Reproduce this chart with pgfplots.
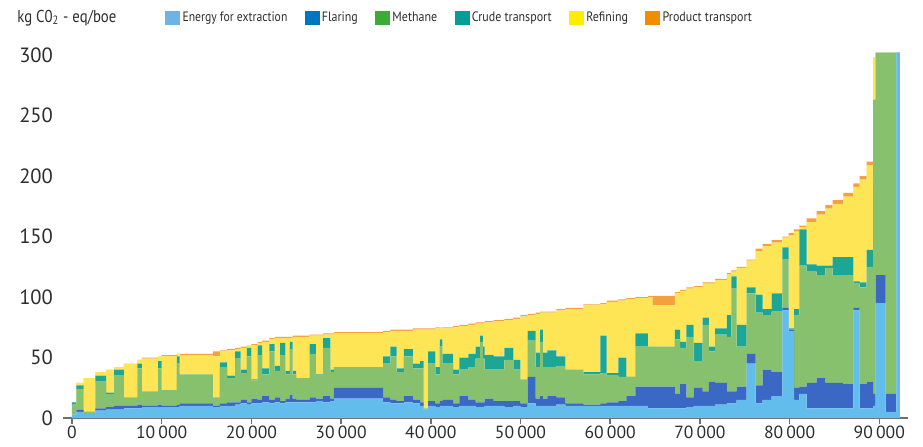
\documentclass[border=0pt]{standalone}
\usepackage{fontspec}
\setmainfont{PT Sans}
\usepackage{pgfplots}
\usepackage{pgfplotstable}
\pgfplotsset{compat=1.18}
\definecolor{cE}{RGB}{98,189,236}
\definecolor{cF}{RGB}{58,104,196}
\definecolor{cM}{RGB}{136,193,110}
\definecolor{cC}{RGB}{28,166,150}
\definecolor{cR}{RGB}{254,229,86}
\definecolor{cP}{RGB}{244,160,62}
\definecolor{lE}{RGB}{110,178,230}
\definecolor{lF}{RGB}{0,118,192}
\definecolor{lM}{RGB}{60,170,55}
\definecolor{lC}{RGB}{0,158,150}
\definecolor{lR}{RGB}{255,236,0}
\definecolor{lP}{RGB}{240,142,0}
\definecolor{txt}{RGB}{45,45,45}
\definecolor{axg}{RGB}{110,110,110}
\pgfplotstableread{
x E F M C R P
0 3 0 8 2 0 0
500 5 2 17 3 2 0
1300 4 0 1 0 28 0
2600 6 2 22 5 3 0
3800 7 2 11 1 19 0
4700 7 3 25 5 2 0
5800 8 2 7 0 28 0
7300 8 3 30 4 3 0
7800 9 1 12 0 27 1
9600 9 2 30 6 4 0
10000 9 1 13 0 28 1
11700 9 2 34 6 2 0
12000 10 2 24 0 16 1
15700 9 1 7 0 34 4
16500 10 2 30 4 9 1
17300 10 3 20 2 21 1
18200 11 2 36 6 2 1
18800 12 3 22 3 18 1
19500 11 2 38 7 2 0
20000 12 4 15 1 28 1
20700 12 3 37 8 2 1
21200 13 5 18 5 22 1
22000 12 3 40 6 4 1
22600 13 4 22 4 23 1
23200 12 2 38 10 4 1
23800 13 3 20 3 27 1
24300 13 6 38 6 3 1
24600 13 3 20 3 28 1
25000 13 2 18 0 34 1
26500 13 4 36 8 7 1
27200 14 2 19 1 32 1
28000 13 5 40 8 3 1
28800 14 2 22 2 29 1
29200 16 9 17 0 28 1
34700 13 4 28 6 20 1
35500 12 3 36 8 13 1
36200 12 2 24 3 31 1
37000 13 5 33 6 15 1
38000 12 3 26 4 28 1
38800 10 3 28 6 26 1
39200 7 0 1 0 65 1
39700 10 4 31 10 18 1
40500 9 3 24 6 32 1
41000 10 4 45 6 10 0
41300 10 5 30 8 21 1
42500 9 3 24 4 35 1
43200 10 8 22 10 26 1
44200 10 5 27 11 24 1
45000 9 4 36 10 19 1
45500 9 4 50 5 10 1
45800 9 4 36 10 19 1
46000 10 6 24 12 27 1
47000 10 4 26 11 29 1
48200 9 5 34 10 23 1
49200 10 4 26 8 34 1
50000 9 3 20 0 52 1
50800 12 22 30 8 13 1
51700 10 6 26 12 32 1
52200 10 8 45 10 14 1
52500 10 6 26 12 33 1
53000 10 8 24 14 31 1
54000 11 6 26 8 38 1
55000 10 2 28 0 50 1
57000 10 1 25 2 55 1
58900 10 2 25 31 26 1
59600 10 3 22 2 59 1
60900 10 4 20 16 47 1
61800 10 8 16 0 64 1
62800 10 16 33 11 29 1
64200 8 18 33 0 41 1
64700 8 18 33 0 34 8
67200 8 12 45 8 30 1
67800 8 20 30 5 42 1
68500 9 8 50 10 30 1
69300 10 15 22 15 46 1
70300 10 12 55 6 28 1
71000 10 20 25 4 52 1
71700 11 18 40 5 40 1
73000 12 10 45 18 34 1
73500 12 10 85 10 4 1
74100 15 11 33 18 47 1
75200 45 8 50 5 22 1
76200 12 15 60 15 36 2
77000 15 25 45 5 52 2
78000 18 20 50 15 42 2
79200 89 2 40 10 8 1
79900 72 1 0 1 77 2
80500 15 10 60 5 64 2
81100 20 6 100 30 2 1
81900 8 21 92 6 35 3
83000 8 25 85 8 42 3
84000 8 21 95 2 47 3
84800 8 21 89 15 44 3
86000 8 20 90 15 50 3
87100 89 2 20 2 78 3
87800 8 20 80 4 85 3
88600 8 22 95 14 70 3
89300 10 10 243 0 35 0
89600 95 23 184 0 0 0
90700 5 15 282 0 0 0
91900 302 0 0 0 0 0
92300 302 0 0 0 0 0
}\data
\begin{document}
\begin{tikzpicture}
\begin{axis}[
  scale only axis, width=422.5pt, height=184.5pt,
  xmin=-1000, xmax=93200, ymin=0, ymax=305,
  clip=false,
  stack plots=y,
  axis x line*=bottom, axis y line*=left,
  y axis line style={draw=none},
  x axis line style={draw=axg, line width=0.8pt},
  ytick={0,50,...,300}, xtick={0,10000,...,90000},
  ytick style={draw=none},
  xtick style={draw=axg, line width=0.8pt},
  tick align=outside, major tick length=3pt,
  scaled x ticks=false,
  /pgf/number format/assume math mode=true,
  /pgf/number format/1000 sep={\hspace{1.6pt}},
  xticklabel style={font=\fontsize{8.8}{10}\selectfont, text=txt, yshift=2.5pt},
  yticklabel style={font=\fontsize{10.3}{11}\selectfont, text=txt, xshift=1.5pt},
  legend columns=6,
  legend style={at={(0.1135,1.084)}, anchor=west, draw=none, fill=none,
    font=\fontsize{6.8}{7}\selectfont, text=txt,
    nodes={inner xsep=0pt},
    /tikz/every odd column/.append style={column sep=1.2pt},
    /tikz/every even column/.append style={column sep=8.7pt}},
  legend cell align=left,
]
\addplot[const plot, fill=cE, draw=none, forget plot] table[x=x,y=E]{\data} \closedcycle;
\addplot[const plot, fill=cF, draw=none, forget plot] table[x=x,y=F]{\data} \closedcycle;
\addplot[const plot, fill=cM, draw=none, forget plot] table[x=x,y=M]{\data} \closedcycle;
\addplot[const plot, fill=cC, draw=none, forget plot] table[x=x,y=C]{\data} \closedcycle;
\addplot[const plot, fill=cR, draw=none, forget plot] table[x=x,y=R]{\data} \closedcycle;
\addplot[const plot, fill=cP, draw=none, forget plot] table[x=x,y=P]{\data} \closedcycle;
\addlegendimage{legend image code/.code={\fill[lE] (0pt,-3.3pt) rectangle (7pt,3.3pt);}}
\addlegendentry{\scalebox{0.86}[1]{Energy for extraction}}
\addlegendimage{legend image code/.code={\fill[lF] (0pt,-3.3pt) rectangle (7pt,3.3pt);}}
\addlegendentry{\scalebox{0.88}[1]{Flaring}}
\addlegendimage{legend image code/.code={\fill[lM] (0pt,-3.3pt) rectangle (7pt,3.3pt);}}
\addlegendentry{\scalebox{0.88}[1]{Methane}}
\addlegendimage{legend image code/.code={\fill[lC] (0pt,-3.3pt) rectangle (7pt,3.3pt);}}
\addlegendentry{\scalebox{0.88}[1]{Crude transport}}
\addlegendimage{legend image code/.code={\fill[lR] (0pt,-3.3pt) rectangle (7pt,3.3pt);}}
\addlegendentry{\scalebox{0.88}[1]{Refining}}
\addlegendimage{legend image code/.code={\fill[lP] (0pt,-3.3pt) rectangle (7pt,3.3pt);}}
\addlegendentry{\scalebox{0.88}[1]{Product transport}}
\node[anchor=west, inner sep=0pt, font=\fontsize{8.6}{10}\selectfont, text=txt] at (rel axis cs:-0.0544,1.084) {\scalebox{0.86}[1]{kg C0\textsubscript{2} - eq/boe}};
\end{axis}
\pgfresetboundingbox
\path[use as bounding box] (-31.5pt,-14pt) rectangle (430pt,209pt);
\end{tikzpicture}
\end{document}
